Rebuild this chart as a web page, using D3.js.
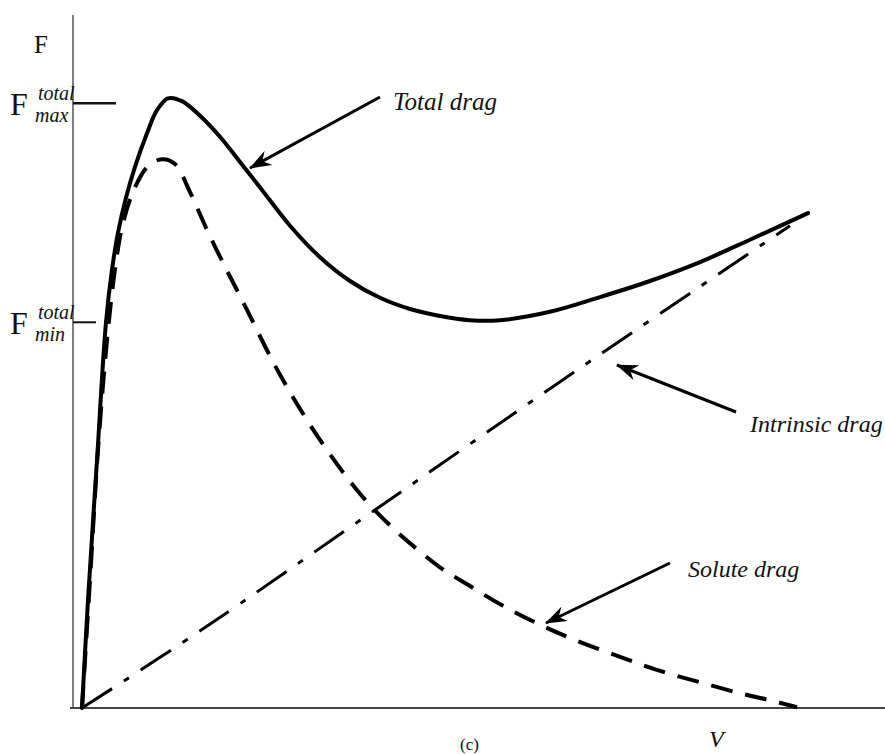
<!DOCTYPE html>
<html>
<head>
<meta charset="utf-8">
<script src="https://cdn.jsdelivr.net/npm/d3@7"></script>
<style>
  body { margin: 0; background: #fff; }
  .lbl { font-family: "Liberation Serif", serif; font-style: italic; fill: #111; }
</style>
</head>
<body>
<div id="chart"></div>
<script>
// velocity samples and drag force values (arbitrary units)
var totalV = [0, 0.075, 0.1875, 0.3, 0.375, 0.45, 0.55, 0.6625, 0.8125, 0.9375, 1.075, 1.25, 1.475, 1.725, 1.975, 2.25, 2.6, 2.975, 3.35, 3.725, 4.1, 4.475, 4.85, 5.225, 5.85, 6.475, 7.1, 7.725, 8.35, 9.075];
var totalF = [0, 1.54, 3.54, 5.51, 6.26, 6.79, 7.29, 7.73, 8.21, 8.54, 8.71, 8.67, 8.46, 8.16, 7.8, 7.4, 6.89, 6.44, 6.1, 5.86, 5.7, 5.6, 5.54, 5.54, 5.66, 5.87, 6.1, 6.37, 6.69, 7.07];

var soluteV = [0, 0.1, 0.2, 0.325, 0.425, 0.5125, 0.6625, 0.825, 1.0, 1.1625, 1.35, 1.5625, 1.7625, 2.0, 2.475, 2.975, 3.475, 3.85, 4.125, 4.475, 4.825, 5.2625, 5.725, 6.1875, 6.725, 7.225, 7.75, 8.225, 8.6, 8.9375];
var soluteF = [0, 1.83, 3.69, 5.4, 6.37, 6.93, 7.44, 7.74, 7.84, 7.77, 7.37, 6.83, 6.36, 5.83, 4.76, 3.83, 3.06, 2.61, 2.33, 2.01, 1.76, 1.46, 1.19, 0.96, 0.73, 0.53, 0.36, 0.21, 0.11, 0.01];

var intrinsicV = [0, 1.5, 3.625, 6.0, 8.85];
var intrinsicF = [0, 1.12, 2.8, 4.68, 6.89];

var fMax = 8.64;
var fMin = 5.51;

var svg_Width = 885;
var svg_Height = 754;

var svg = d3.select('#chart')
    .append('svg')
    .attr('width', svg_Width)
    .attr('height', svg_Height);

var xScale = d3.scaleLinear().domain([0, 10]).range([82, 882]);
var yScale = d3.scaleLinear().domain([0, 10]).range([708, 8]);

function pts(xs, ys) {
  return xs.map(function(v, i) { return [v, ys[i]]; });
}

var line = d3.line()
    .x(function(d) { return xScale(d[0]); })
    .y(function(d) { return yScale(d[1]); })
    .curve(d3.curveCatmullRom.alpha(0.5));

// axes (plain lines, no ticks)
svg.append('line')
    .attr('x1', 73).attr('x2', 73)
    .attr('y1', 15).attr('y2', 709)
    .attr('stroke', '#555').attr('stroke-width', 1.5);
svg.append('line')
    .attr('x1', 70).attr('x2', 885)
    .attr('y1', yScale(0)).attr('y2', yScale(0))
    .attr('stroke', '#444').attr('stroke-width', 2);

// Fmax / Fmin marks
svg.append('line')
    .attr('x1', 73).attr('x2', 116)
    .attr('y1', yScale(fMax)).attr('y2', yScale(fMax))
    .attr('stroke', '#111').attr('stroke-width', 2.5);
svg.append('line')
    .attr('x1', 73).attr('x2', 96)
    .attr('y1', yScale(fMin)).attr('y2', yScale(fMin))
    .attr('stroke', '#111').attr('stroke-width', 2);

// curves
svg.append('path')
    .datum(pts(intrinsicV, intrinsicF))
    .attr('d', line)
    .attr('fill', 'none')
    .attr('stroke', '#000')
    .attr('stroke-width', 3)
    .attr('stroke-dasharray', '36,14,6,14');

svg.append('path')
    .datum(pts(soluteV, soluteF))
    .attr('d', line)
    .attr('fill', 'none')
    .attr('stroke', '#000')
    .attr('stroke-width', 4)
    .attr('stroke-dasharray', '22,13');

svg.append('path')
    .datum(pts(totalV, totalF))
    .attr('d', line)
    .attr('fill', 'none')
    .attr('stroke', '#000')
    .attr('stroke-width', 4)
    .attr('stroke-linecap', 'round');

// arrow head
svg.append('defs').append('marker')
    .attr('id', 'arr')
    .attr('viewBox', '0 0 22 16')
    .attr('refX', 21).attr('refY', 8)
    .attr('markerWidth', 22).attr('markerHeight', 16)
    .attr('markerUnits', 'userSpaceOnUse')
    .attr('orient', 'auto')
    .append('path')
    .attr('d', 'M0,0 L22,8 L0,16 L7,8 Z')
    .attr('fill', '#000');

var arrows = [
  {x1: 380, y1: 97, x2: 250, y2: 168},
  {x1: 736, y1: 412, x2: 617, y2: 365},
  {x1: 670, y1: 563, x2: 546, y2: 623}
];
svg.selectAll('.arrow')
    .data(arrows)
    .enter()
    .append('line')
    .attr('x1', function(d) { return d.x1; })
    .attr('y1', function(d) { return d.y1; })
    .attr('x2', function(d) { return d.x2; })
    .attr('y2', function(d) { return d.y2; })
    .attr('stroke', '#000')
    .attr('stroke-width', 3)
    .attr('marker-end', 'url(#arr)');

// curve labels
var labels = [
  {t: 'Total drag', x: 393, y: 110, s: 25},
  {t: 'Intrinsic drag', x: 750, y: 432, s: 24},
  {t: 'Solute drag', x: 688, y: 577, s: 24}
];
svg.selectAll('.lbl')
    .data(labels)
    .enter()
    .append('text')
    .attr('class', 'lbl')
    .attr('x', function(d) { return d.x; })
    .attr('y', function(d) { return d.y; })
    .attr('font-size', function(d) { return d.s + 'px'; })
    .text(function(d) { return d.t; });

// axis labels
svg.append('text')
    .attr('x', 34).attr('y', 53)
    .attr('font-family', 'Liberation Serif, serif')
    .attr('font-size', '25px')
    .attr('fill', '#111')
    .text('F');

svg.append('text')
    .attr('x', 709).attr('y', 747)
    .attr('font-family', 'Liberation Serif, serif')
    .attr('font-style', 'italic')
    .attr('font-size', '24px')
    .attr('fill', '#111')
    .text('V');

svg.append('text')
    .attr('x', 460).attr('y', 750)
    .attr('font-family', 'Liberation Serif, serif')
    .attr('font-size', '17px')
    .attr('fill', '#111')
    .text('(c)');

function fLabel(yTick, sub) {
  var g = svg.append('g');
  g.append('text')
      .attr('x', 10).attr('y', yTick + 12)
      .attr('font-family', 'Liberation Serif, serif')
      .attr('font-size', '32px')
      .attr('fill', '#111')
      .text('F');
  g.append('text')
      .attr('class', 'lbl')
      .attr('x', 38).attr('y', yTick - 3)
      .attr('font-size', '20px')
      .text('total');
  g.append('text')
      .attr('class', 'lbl')
      .attr('x', 35).attr('y', yTick + 19)
      .attr('font-size', '20px')
      .text(sub);
}
fLabel(yScale(fMax), 'max');
fLabel(yScale(fMin), 'min');
</script>
</body>
</html>
